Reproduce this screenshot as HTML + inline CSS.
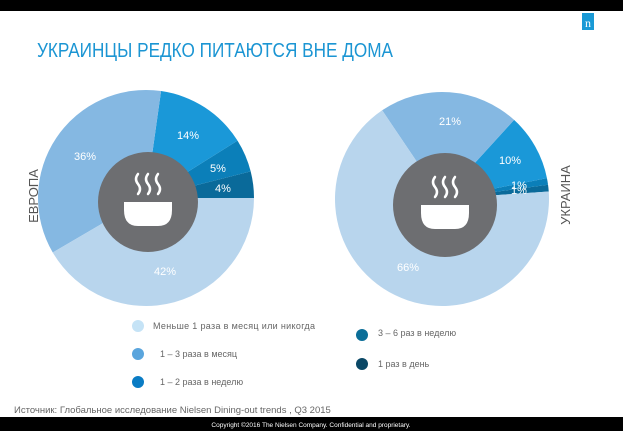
<!DOCTYPE html>
<html><head><meta charset="utf-8"><style>
body{margin:0;width:623px;height:431px;overflow:hidden;background:#fff;font-family:"Liberation Sans",sans-serif}
</style></head><body>
<svg id="s" width="623" height="431" xmlns="http://www.w3.org/2000/svg" style="position:absolute;left:0;top:0">
<rect x="0" y="0" width="623" height="11" fill="#000"/>
<rect x="0" y="417" width="623" height="14" fill="#000"/>
<text x="311" y="427" font-size="6.5" fill="#fff" text-anchor="middle">Copyright ©2016 The Nielsen Company. Confidential and proprietary.</text>
<rect x="582" y="13" width="12" height="17" fill="#1a9ad6"/>
<text x="588" y="27" font-size="12" fill="#fff" text-anchor="middle" font-family="Liberation Serif">n</text>
<text x="37" y="57" font-size="20" fill="#1b95d3" textLength="356" lengthAdjust="spacingAndGlyphs">УКРАИНЦЫ РЕДКО ПИТАЮТСЯ ВНЕ ДОМА</text>
<g id="L"></g><g id="R"></g>
<text transform="translate(38,196) rotate(-90)" font-size="13" fill="#555" text-anchor="middle">ЕВРОПА</text>
<text transform="translate(570,195) rotate(-90)" font-size="13" fill="#555" text-anchor="middle">УКРАИНА</text>
<g font-size="9" fill="#666">
<circle cx="138" cy="326" r="6" fill="#c5e3f6"/><text x="153" y="329" textLength="162">Меньше 1 раза в месяц или никогда</text>
<circle cx="138" cy="354" r="6" fill="#5aa5dd"/><text x="160" y="357">1 – 3 раза в месяц</text>
<circle cx="138" cy="382" r="6" fill="#0a7cc4"/><text x="160" y="385">1 – 2 раза в неделю</text>
<circle cx="362" cy="335" r="6" fill="#0b6e98"/><text x="378" y="336">3 – 6 раз в неделю</text>
<circle cx="362" cy="364" r="6" fill="#0a4866"/><text x="378" y="367">1 раз в день</text>
<text x="14" y="413" font-size="9.5">Источник: Глобальное исследование Nielsen Dining-out trends  , Q3 2015</text>
</g>
</svg>
<script>
var cols=["#0a6a9a","#0b7fb9","#1a98d8","#85b8e2","#b8d5ed"];
function pie(id,cx,cy,r,start,vals,labs,gx,gy,gr){
 var g=document.getElementById(id),h="",a=start,tot=vals.reduce((x,y)=>x+y);
 vals.forEach(function(v,i){
  var a2=a-v/tot*2*Math.PI;
  var x1=cx+r*Math.cos(a),y1=cy+r*Math.sin(a),x2=cx+r*Math.cos(a2),y2=cy+r*Math.sin(a2);
  var lg=(a-a2)>Math.PI?1:0;
  h+='<path d="M'+cx+','+cy+'L'+x1+','+y1+'A'+r+','+r+' 0 '+lg+' 0 '+x2+','+y2+'Z" fill="'+cols[i]+'"/>';
  a=a2;});
 labs.forEach(function(l){h+='<text x="'+l[1]+'" y="'+l[2]+'" font-size="11" fill="#fff" text-anchor="middle">'+l[0]+'</text>';});
 h+='<circle cx="'+gx+'" cy="'+gy+'" r="'+gr+'" fill="#6d6e71"/>';
 h+='<g fill="none" stroke="#fff" stroke-width="2.5" stroke-linecap="round">';
 [-10,0,10].forEach(function(d){var x=gx+d;h+='<path d="M'+x+','+(gy-28)+'q-4,5 0,10 q4,5 0,10"/>';});
 h+='</g><path d="M'+(gx-24)+','+(gy)+'h48v8q0,16 -14,16h-20q-14,0 -14,-16z" fill="#fff"/>';
 g.innerHTML=h;}
pie("L",146,198,108,0,[4,5,14,36,42],[["4%",223,192],["5%",218,172],["14%",188,139],["36%",85,160],["42%",165,275]],148,202,50);
pie("R",442,199,107,-0.07,[1,1,10,21,66],[["1%",519,189],["1%",519,194],["10%",510,164],["21%",450,125],["66%",408,271]],445,205,52);
</script>
</body></html>
